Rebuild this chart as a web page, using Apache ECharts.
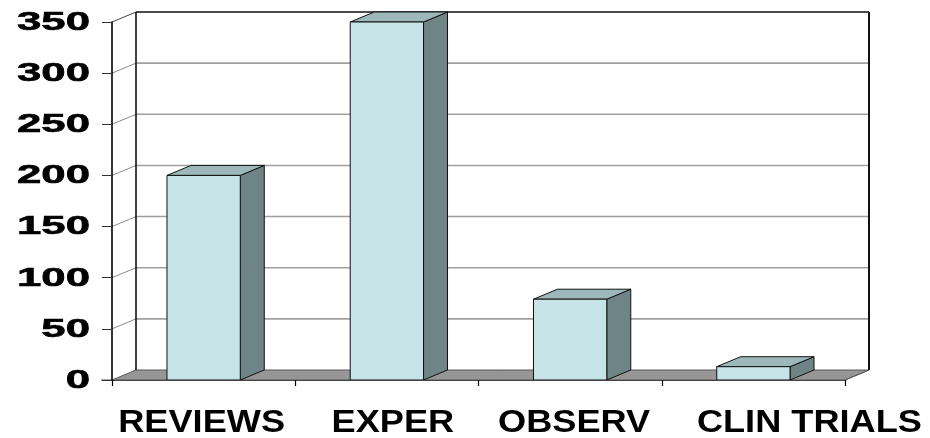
<!DOCTYPE html>
<html>
<head>
<meta charset="utf-8">
<script src="https://cdn.jsdelivr.net/npm/echarts@6/dist/echarts.min.js"></script>
<style>
html,body{margin:0;padding:0;background:#fff;}
#chart{width:930px;height:438px;}
</style>
</head>
<body>
<div id="chart"></div>
<script>
// ---- data ----
const categories = ['REVIEWS', 'EXPER', 'OBSERV', 'CLIN TRIALS'];
const values = [200, 350, 79, 13];
const yTicks = [0, 50, 100, 150, 200, 250, 300, 350];

// ---- style constants ----
const DX = 24, DY = -10;              // 3D depth offset
const FONT = "'Liberation Sans', Arial, sans-serif";
const catLabelShift = [-2, 6, 4, 56];
const FRONT = '#C6E4E8', TOP = '#9DB8BA', SIDE = '#6F8486';

const chart = echarts.init(document.getElementById('chart'), null, {renderer: 'canvas'});

function frameItem(params, api) {
  const cs = params.coordSys;
  const L = cs.x, R = cs.x + cs.width, T = cs.y, B = cs.y + cs.height;
  const ch = [];
  ch.push({type: 'polygon', shape: {points: [[L, B], [R, B], [R + DX, B + DY], [L + DX, B + DY]]},
    style: {fill: '#969696', stroke: '#5a5a5a', lineWidth: 1}});
  const vmax = yTicks[yTicks.length - 1];
  yTicks.forEach(v => {
    if (v <= 0 || v >= vmax) return;
    const y = api.coord([0, v])[1];
    ch.push({type: 'line', shape: {x1: L + DX, y1: y + DY, x2: R + DX, y2: y + DY},
      style: {stroke: '#a0a0a0', lineWidth: 1.6}});
    ch.push({type: 'line', shape: {x1: L, y1: y, x2: L + DX, y2: y + DY},
      style: {stroke: '#8c8c8c', lineWidth: 1}});
  });
  ch.push({type: 'line', shape: {x1: L + DX, y1: T + DY, x2: R + DX, y2: T + DY}, style: {stroke: '#111', lineWidth: 1.6}});
  ch.push({type: 'line', shape: {x1: L, y1: T, x2: L + DX, y2: T + DY}, style: {stroke: '#444', lineWidth: 1}});
  ch.push({type: 'line', shape: {x1: L + DX, y1: T + DY, x2: L + DX, y2: B + DY}, style: {stroke: '#111', lineWidth: 1.6}});
  ch.push({type: 'line', shape: {x1: R + DX, y1: T + DY, x2: R + DX, y2: B + DY}, style: {stroke: '#111', lineWidth: 2}});
  ch.push({type: 'line', shape: {x1: R, y1: B, x2: R + DX, y2: B + DY}, style: {stroke: '#5a5a5a', lineWidth: 1}});
  // grey stub of the zero tick
  ch.push({type: 'line', shape: {x1: L - 11, y1: B, x2: L, y2: B}, style: {stroke: '#909090', lineWidth: 1.5}});
  return {type: 'group', children: ch};
}

function barItem(params, api) {
  const i = api.value(0), v = api.value(1);
  const b = api.coord([i, 0]), t = api.coord([i, v]);
  const w = api.size([1, 0])[0] * 0.40;
  const x0 = b[0] - w / 2, x1 = x0 + w, yb = b[1], yt = t[1];
  const st = {stroke: '#111', lineWidth: 1};
  return {type: 'group', children: [
    {type: 'polygon', shape: {points: [[x1, yt], [x1 + DX, yt + DY], [x1 + DX, yb + DY], [x1, yb]]},
      style: Object.assign({fill: SIDE}, st)},
    {type: 'polygon', shape: {points: [[x0, yt], [x0 + DX, yt + DY], [x1 + DX, yt + DY], [x1, yt]]},
      style: Object.assign({fill: TOP}, st)},
    {type: 'rect', shape: {x: x0, y: yt, width: w, height: yb - yt},
      style: Object.assign({fill: FRONT}, st)}
  ]};
}

function yLabelItem(params, api) {
  const v = api.value(1);
  const y = api.coord([0, v])[1];
  return {type: 'text', x: params.coordSys.x - 22, y: y + 1, scaleX: 1.75,
    style: {text: String(v), textAlign: 'right', textVerticalAlign: 'middle',
      font: 'bold 25px ' + FONT, fill: '#000', stroke: '#000', lineWidth: 0.6}};
}

function xLabelItem(params, api) {
  const i = api.value(0);
  const p = api.coord([i, 0]);
  return {type: 'text', x: p[0] + catLabelShift[i], y: p[1] + 43, scaleX: 1.13,
    style: {text: categories[i], textAlign: 'center', textVerticalAlign: 'middle',
      font: 'bold 32px ' + FONT, fill: '#000'}};
}

chart.setOption({
  animation: false,
  backgroundColor: '#fff',
  grid: {left: 112, right: 85, top: 22, bottom: 58, containLabel: false},
  xAxis: {
    type: 'category', data: categories, z: 10,
    axisLine: {show: true, lineStyle: {color: '#444', width: 1}},
    axisTick: {show: true, length: 6, alignWithLabel: false, lineStyle: {color: '#000', width: 1.2}},
    axisLabel: {show: false}, splitLine: {show: false}
  },
  yAxis: {
    type: 'value', min: 0, max: 350, interval: 50, z: 10,
    axisLine: {show: true, lineStyle: {color: '#000', width: 1.6}},
    axisTick: {show: true, length: 10, lineStyle: {color: '#333', width: 1}},
    axisLabel: {show: false}, splitLine: {show: false}
  },
  series: [
    {type: 'custom', name: 'frame', z: 1, renderItem: frameItem, data: [[0, 0]], silent: true},
    {type: 'custom', name: 'bars', z: 3, renderItem: barItem,
      data: values.map((v, i) => [i, v])},
    {type: 'custom', name: 'ylabels', z: 5, renderItem: yLabelItem,
      data: yTicks.map(v => [0, v]), silent: true},
    {type: 'custom', name: 'xlabels', z: 5, renderItem: xLabelItem,
      data: categories.map((c, i) => [i, 0]), silent: true}
  ]
});
</script>
</body>
</html>
